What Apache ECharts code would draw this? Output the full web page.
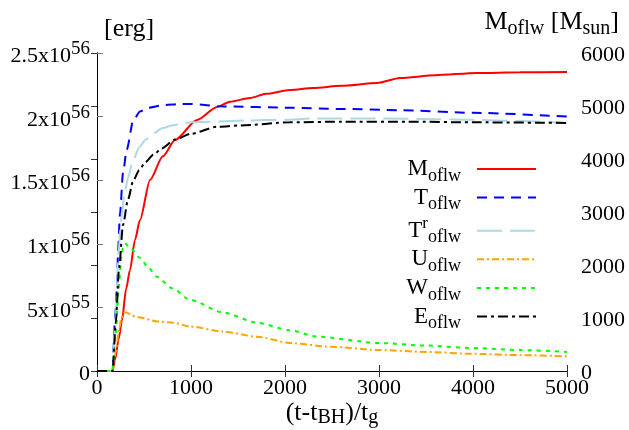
<!DOCTYPE html>
<html><head><meta charset="utf-8">
<script src="https://cdn.jsdelivr.net/npm/echarts@6/dist/echarts.min.js"></script>
<style>html,body{margin:0;padding:0;background:#fff}#c{width:629px;height:430px}</style>
</head><body><div id="c"></div>
<script>
// time axis ((t-t_BH)/t_g) and values
// M_oflw in M_sun (right axis)
const tM = [0, 165, 191, 230, 266, 310, 351, 404, 457, 564, 700, 830, 1064, 1277, 1415, 1628, 1800, 2053, 2300, 2600, 2979, 3223, 3600, 4043, 4500, 5000];
const vM = [0, 0, 208, 600, 962, 1550, 1906, 2472, 2849, 3604, 4050, 4358, 4736, 4981, 5081, 5151, 5230, 5302, 5340, 5380, 5434, 5528, 5580, 5623, 5635, 5642];
// energies in units of 1e56 erg (left axis)
const tT = [0, 165, 191, 213, 223, 245, 277, 316, 386, 457, 546, 700, 900, 1000, 1340, 2053, 2600, 3223, 4000, 5000];
const vT = [0, 0, 0.4, 0.66, 0.93, 1.24, 1.56, 1.74, 1.97, 2.04, 2.07, 2.09, 2.10, 2.10, 2.08, 2.07, 2.06, 2.05, 2.03, 2.00];
const tTr = [0, 165, 200, 230, 260, 290, 330, 380, 450, 520, 600, 700, 800, 900, 1000, 1200, 1600, 2000, 2300, 3000, 3600, 4000, 4500, 5000];
const vTr = [0, 0, 0.45, 0.95, 1.2, 1.38, 1.52, 1.65, 1.76, 1.82, 1.87, 1.91, 1.93, 1.945, 1.955, 1.96, 1.97, 1.975, 1.985, 1.985, 1.98, 1.975, 1.965, 1.95];
const tU = [0, 165, 200, 230, 260, 290, 310, 400, 457, 638, 809, 989, 1340, 1702, 2053, 2500, 3000, 3500, 4000, 4500, 5000];
const vU = [0, 0, 0.15, 0.3, 0.42, 0.46, 0.46, 0.43, 0.42, 0.39, 0.38, 0.35, 0.31, 0.27, 0.22, 0.19, 0.165, 0.15, 0.135, 0.125, 0.115];
const tW = [0, 165, 200, 230, 260, 280, 300, 350, 457, 550, 638, 800, 989, 1340, 1702, 2053, 2340, 3000, 3500, 4000, 4500, 5000];
const vW = [0, 0, 0.3, 0.65, 0.9, 0.99, 1.0, 0.97, 0.89, 0.81, 0.74, 0.65, 0.56, 0.46, 0.38, 0.32, 0.27, 0.22, 0.2, 0.18, 0.165, 0.15];
const tE = [0, 165, 200, 234, 277, 330, 387, 450, 511, 600, 688, 830, 1000, 1277, 1521, 2053, 2600, 3300, 4000, 5000];
const vE = [0, 0, 0.38, 0.8, 1.15, 1.35, 1.5, 1.58, 1.64, 1.70, 1.75, 1.82, 1.865, 1.92, 1.93, 1.955, 1.96, 1.96, 1.955, 1.95];

const xTickLabels = ['0', '1000', '2000', '3000', '4000', '5000'];
const leftTickValues = [0, 0.5, 1, 1.5, 2, 2.5];
const leftTickLabels = [['0', ''], ['5x10', '55'], ['1x10', '56'], ['1.5x10', '56'], ['2x10', '56'], ['2.5x10', '56']];
const rightTickLabels = ['0', '1000', '2000', '3000', '4000', '5000', '6000'];

const F = 'Liberation Serif';
const zip = (t, v) => t.map((x, i) => [x, v[i]]);

const legendLabels = {
  'M': '{m|M}{s|oflw}',
  'T': '{m|T}{s|oflw}',
  'Tr': '{m|T}{r|r}{s|oflw}',
  'U': '{m|U}{s|oflw}',
  'W': '{m|W}{s|oflw}',
  'E': '{m|E}{s|oflw}'
};

function mk(name, data, color, dash, yi) {
  return {
    name: name, type: 'line', data: data, yAxisIndex: yi,
    showSymbol: false, symbol: 'none', smooth: 0.25, smoothMonotone: 'x',
    lineStyle: { color: color, width: 2, type: dash }, itemStyle: { color: color },
    emphasis: { disabled: true }
  };
}

const chart = echarts.init(document.getElementById('c'), null, { renderer: 'canvas' });
chart.setOption({
  animation: false,
  backgroundColor: '#fff',
  textStyle: { fontFamily: F },
  title: [
    { text: '[erg]', left: 99, top: 11, textStyle: { fontFamily: F, fontSize: 26, fontWeight: 'normal', color: '#000' } },
    { text: '{m|M}{s|oflw}{m| [M}{s|sun}{m|]}', right: 5, top: 0,
      textStyle: { fontFamily: F, fontSize: 26, fontWeight: 'normal', color: '#000',
        rich: { m: { fontFamily: F, fontSize: 26, lineHeight: 34, verticalAlign: 'middle', color: '#000' },
                s: { fontFamily: F, fontSize: 20, lineHeight: 20, verticalAlign: 'bottom', color: '#000' } } } }
  ],
  grid: { left: 97, right: 62, top: 53, bottom: 59, containLabel: false, outerBoundsMode: 'none' },
  legend: {
    orient: 'vertical', align: 'right', right: 92, top: 157.5, padding: 0,
    itemWidth: 59, itemHeight: 10, itemGap: 1.1,
    itemStyle: { opacity: 0, borderWidth: 0 },
    data: ['M', 'T', 'Tr', 'U', 'W', 'E'],
    formatter: n => legendLabels[n],
    textStyle: { fontFamily: F, color: '#000', fontSize: 23,
      rich: {
        m: { fontFamily: F, fontSize: 23, lineHeight: 32, verticalAlign: 'middle', color: '#000' },
        r: { fontFamily: F, fontSize: 17, lineHeight: 22, verticalAlign: 'top', color: '#000' },
        s: { fontFamily: F, fontSize: 18, lineHeight: 18, padding: [0, 11, 0, 0], verticalAlign: 'bottom', color: '#000' }
      } }
  },
  xAxis: [
    { type: 'value', position: 'bottom', min: 0, max: 5000, interval: 1000,
      name: '{m|(t-t}{s|BH}{m|)/t}{s|g}', nameLocation: 'middle', nameGap: 27, nameMoveOverlap: false,
      nameTextStyle: { fontFamily: F, fontSize: 26, color: '#000',
        rich: { m: { fontFamily: F, fontSize: 26, lineHeight: 30, verticalAlign: 'middle', color: '#000' },
                s: { fontFamily: F, fontSize: 20, lineHeight: 20, verticalAlign: 'bottom', color: '#000' } } },
      axisLine: { show: true, lineStyle: { color: '#000', width: 1 } },
      axisTick: { inside: true, length: 6, lineStyle: { color: '#333' } },
      axisLabel: { fontFamily: F, fontSize: 22, color: '#000', margin: 6, formatter: (v) => xTickLabels[Math.round(v / 1000)] },
      splitLine: { show: false } },
    { type: 'value', position: 'top', min: 0, max: 5000, interval: 1000,
      axisLine: { show: true, lineStyle: { color: '#000', width: 1 } },
      axisTick: { inside: true, length: 6, lineStyle: { color: '#333' } },
      axisLabel: { show: false }, splitLine: { show: false } }
  ],
  yAxis: [
    { type: 'value', position: 'left', min: 0, max: 2.5, interval: 0.5,
      axisLine: { show: true, lineStyle: { color: '#000', width: 1 } },
      axisTick: { inside: true, length: 6, lineStyle: { color: '#777' } },
      axisLabel: { margin: 7, fontFamily: F, fontSize: 22, color: '#000', padding: [7, 0, 0, 0],
        formatter: (v) => { const i = leftTickValues.findIndex(x => Math.abs(x - v) < 1e-6); const l = leftTickLabels[i];
          return l[1] ? '{b|' + l[0] + '}{p|' + l[1] + '}' : '{z|' + l[0] + '}'; },
        rich: { b: { fontFamily: F, fontSize: 22, lineHeight: 34, verticalAlign: 'middle', color: '#000' },
                p: { fontFamily: F, fontSize: 19, lineHeight: 19, verticalAlign: 'top', color: '#000' },
                z: { fontFamily: F, fontSize: 22, lineHeight: 22, color: '#000' } } },
      splitLine: { show: false } },
    { type: 'value', position: 'right', min: 0, max: 6000, interval: 1000,
      axisLine: { show: true, lineStyle: { color: '#000', width: 1 } },
      axisTick: { inside: true, length: 6, lineStyle: { color: '#333' } },
      axisLabel: { margin: 14, fontFamily: F, fontSize: 22, color: '#000', padding: [4, 0, 0, 0],
        formatter: (v) => '{z|' + rightTickLabels[Math.round(v / 1000)] + '}',
        rich: { z: { fontFamily: F, fontSize: 22, lineHeight: 22, color: '#000' } } },
      splitLine: { show: false } }
  ],
  series: [
    mk('M', zip(tM, vM), '#ff0000', 'solid', 1),
    mk('T', zip(tT, vT), '#0000ff', [10, 7], 0),
    mk('Tr', zip(tTr, vTr), '#add8e6', [25, 8], 0),
    mk('U', zip(tU, vU), '#ffa500', [7, 3, 2, 3], 0),
    mk('W', zip(tW, vW), '#00ff00', [4, 5], 0),
    mk('E', zip(tE, vE), '#000000', [10, 4, 3, 4], 0)
  ]
});
</script></body></html>
